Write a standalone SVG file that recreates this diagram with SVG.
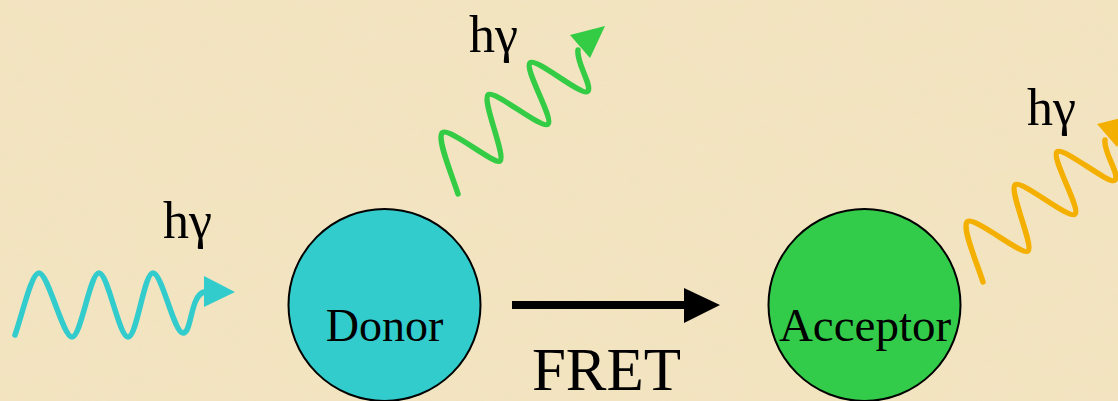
<svg xmlns="http://www.w3.org/2000/svg" width="1118" height="401" viewBox="0 0 1118 401">
<defs>
<filter id="paper" x="0" y="0" width="100%" height="100%">
<feTurbulence type="fractalNoise" baseFrequency="0.015 0.035" numOctaves="4" seed="7" result="n"/>
<feColorMatrix in="n" type="matrix" values="0 0 0 0 0.88  0 0 0 0 0.76  0 0 0 0 0.56  0 0 0 1.2 -0.45"/>
</filter>
<style>
.lbl{font-family:"Liberation Serif","Times New Roman",serif;fill:#000}
.node{stroke:#000;stroke-width:2}
.wave{fill:none;stroke-width:5.5;stroke-linecap:round;stroke-linejoin:round}
</style>
</defs>
<rect width="1118" height="401" fill="#F3E4C0"/>
<rect width="1118" height="401" filter="url(#paper)" opacity="0.6"/>
<g id="donor">
<circle class="node" cx="384.5" cy="305" r="96" fill="#33CCCC"/>
<text class="lbl" x="384.5" y="341" font-size="46" text-anchor="middle">Donor</text>
</g>
<g id="acceptor">
<circle class="node" cx="864.5" cy="305" r="96" fill="#33CC4A"/>
<text class="lbl" x="865" y="341" font-size="47" text-anchor="middle">Acceptor</text>
</g>
<g id="photon-in">
<path class="wave" stroke="#33CCCC" d="M15,335 C22,316 31,273 39,273 C48,273 63,337 72,337 C81,337 90,273 99,273 C108,273 119,337 128,337 C137,337 144,273 153,273 C162,273 174,333 183,333 C192,333 190,296 204,292"/>
<polygon fill="#33CCCC" points="204,276 235,292 204,307"/>
<text class="lbl" x="163" y="238" font-size="52">hγ</text>
</g>
<g id="photon-donor">
<path class="wave" stroke="#33CC44" d="M458,194 C452,175 437,140 442,133 C448,126 494,165 500,161 C506,156 482,101 488,95 C494,89 542,130 548,124 C554,119 524,69 530,63 C536,57 583,98 588,91 C592,85 576,62 578,50"/>
<polygon fill="#33CC44" points="570,35 605,26 590,58"/>
<text class="lbl" x="469" y="52" font-size="52">hγ</text>
</g>
<g id="photon-acceptor">
<path class="wave" stroke="#F4B000" d="M983,282 C977,263 962,229 967,222 C973,215 1022,256 1028,251 C1034,246 1009,191 1015,185 C1021,179 1069,220 1075,214 C1081,209 1051,158 1057,152 C1063,146 1110,186 1115,180 C1120,174 1103,152 1105,140"/>
<polygon fill="#F4B000" points="1097,124 1133,115 1117,147"/>
<text class="lbl" x="1027" y="125" font-size="52">hγ</text>
</g>
<g id="connectors">
<line x1="512" y1="305" x2="686" y2="305" stroke="#000" stroke-width="8"/>
<polygon fill="#000" points="684,288 720,305 684,323"/>
<text class="lbl" x="606.5" y="390" font-size="61" text-anchor="middle">FRET</text>
</g>
</svg>
